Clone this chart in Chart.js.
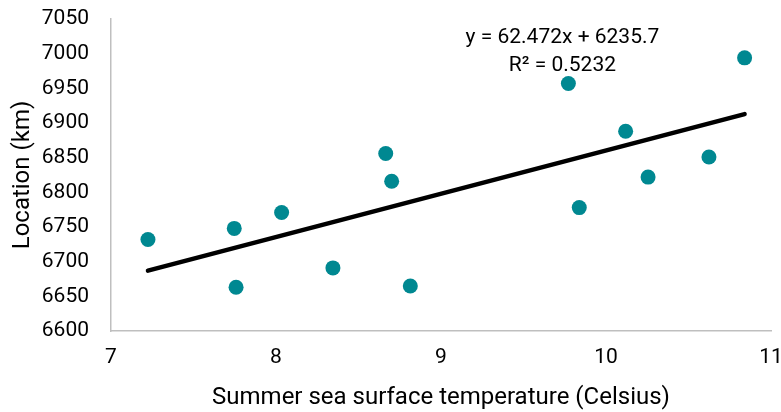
<!DOCTYPE html>
<html>
<head>
<meta charset="utf-8">
<script src="https://cdn.jsdelivr.net/npm/chart.js@4.4.1/dist/chart.umd.min.js"></script>
<style>
  html, body { margin: 0; padding: 0; background: #ffffff; }
  #wrap { width: 781px; height: 412px; }
</style>
</head>
<body>
<div id="wrap"><canvas id="chart" width="781" height="412"></canvas></div>
<script>
// Summer sea surface temperature (°C) and location (km) of each site
const temperature = [7.224, 7.747, 7.758, 8.034, 8.345, 8.665, 8.701, 8.814, 9.772, 9.838, 10.119, 10.255, 10.624, 10.840];
const location_km = [6732, 6748, 6663, 6771, 6691, 6856, 6816, 6665, 6957, 6778, 6888, 6822, 6851, 6994];

// Linear trend line as reported on the chart
const trendSlope = 62.472;
const trendIntercept = 6235.7;
const trendLabel = ['y = 62.472x + 6235.7', 'R\u00B2 = 0.5232'];

// Axis ranges
const xTicks = [7, 8, 9, 10, 11];
const yTicks = [6600, 6650, 6700, 6750, 6800, 6850, 6900, 6950, 7000, 7050];

const FONT = '"Liberation Sans Narrow", "Arial Narrow", Roboto, sans-serif';

const points = temperature.map((t, i) => ({ x: t, y: location_km[i] }));
const xMin = Math.min(...temperature), xMax = Math.max(...temperature);
const trend = [xMin, xMax].map(x => ({ x, y: trendSlope * x + trendIntercept }));

// Writes the regression equation and R² above the trend line
const equationPlugin = {
  id: 'equation',
  afterDatasetsDraw(chart) {
    const { ctx, chartArea } = chart;
    const cx = chartArea.left + chartArea.width * 0.684;
    ctx.save();
    ctx.fillStyle = '#000000';
    ctx.font = '21px ' + FONT;
    ctx.textAlign = 'center';
    ctx.textBaseline = 'middle';
    ctx.fillText(trendLabel[0], cx, chartArea.top + 19);
    ctx.fillText(trendLabel[1], cx, chartArea.top + 47);
    ctx.restore();
  }
};

new Chart(document.getElementById('chart'), {
  type: 'scatter',
  data: {
    datasets: [
      {
        label: 'Sites',
        data: points,
        backgroundColor: '#008891',
        borderColor: '#008891',
        pointRadius: 7.5,
        pointHoverRadius: 7.5,
        borderWidth: 0,
        order: 2
      },
      {
        label: 'Trend',
        type: 'line',
        data: trend,
        borderColor: '#000000',
        borderWidth: 4.5,
        pointRadius: 0,
        borderCapStyle: 'round',
        fill: false,
        order: 1
      }
    ]
  },
  options: {
    responsive: false,
    animation: false,
    layout: { padding: { top: 19, right: 10, left: 0, bottom: 0 } },
    plugins: {
      legend: { display: false },
      tooltip: { enabled: false }
    },
    scales: {
      x: {
        type: 'linear',
        min: xTicks[0],
        max: xTicks[xTicks.length - 1],
        afterBuildTicks(scale) { scale.ticks = xTicks.map(v => ({ value: v })); },
        grid: { display: false, drawTicks: false },
        border: { display: true, color: '#bfbfbf', width: 1.5 },
        ticks: { padding: 14, color: '#000000', font: { family: FONT, size: 21 }, callback: v => String(v) },
        title: {
          display: true,
          text: 'Summer sea surface temperature (Celsius)',
          color: '#000000',
          font: { family: FONT, size: 24 },
          padding: { top: 0, bottom: 0 }
        },
        afterFit(scale) {
          scale.height = 81;
          scale.paddingLeft = 0;
          scale.paddingRight = 0;
        }
      },
      y: {
        type: 'linear',
        min: yTicks[0],
        max: yTicks[yTicks.length - 1],
        afterBuildTicks(scale) { scale.ticks = yTicks.map(v => ({ value: v })); },
        grid: { display: false, drawTicks: false },
        border: { display: true, color: '#bfbfbf', width: 1.5 },
        ticks: { padding: 22, color: '#000000', font: { family: FONT, size: 21 }, callback: v => String(v) },
        title: {
          display: true,
          text: 'Location (km)',
          color: '#000000',
          font: { family: FONT, size: 24 },
          padding: { top: 9, bottom: 0 }
        },
        afterFit(scale) {
          scale.width = 111;
          scale.paddingTop = 0;
          scale.paddingBottom = 0;
        }
      }
    }
  },
  plugins: [equationPlugin]
});
</script>
</body>
</html>
